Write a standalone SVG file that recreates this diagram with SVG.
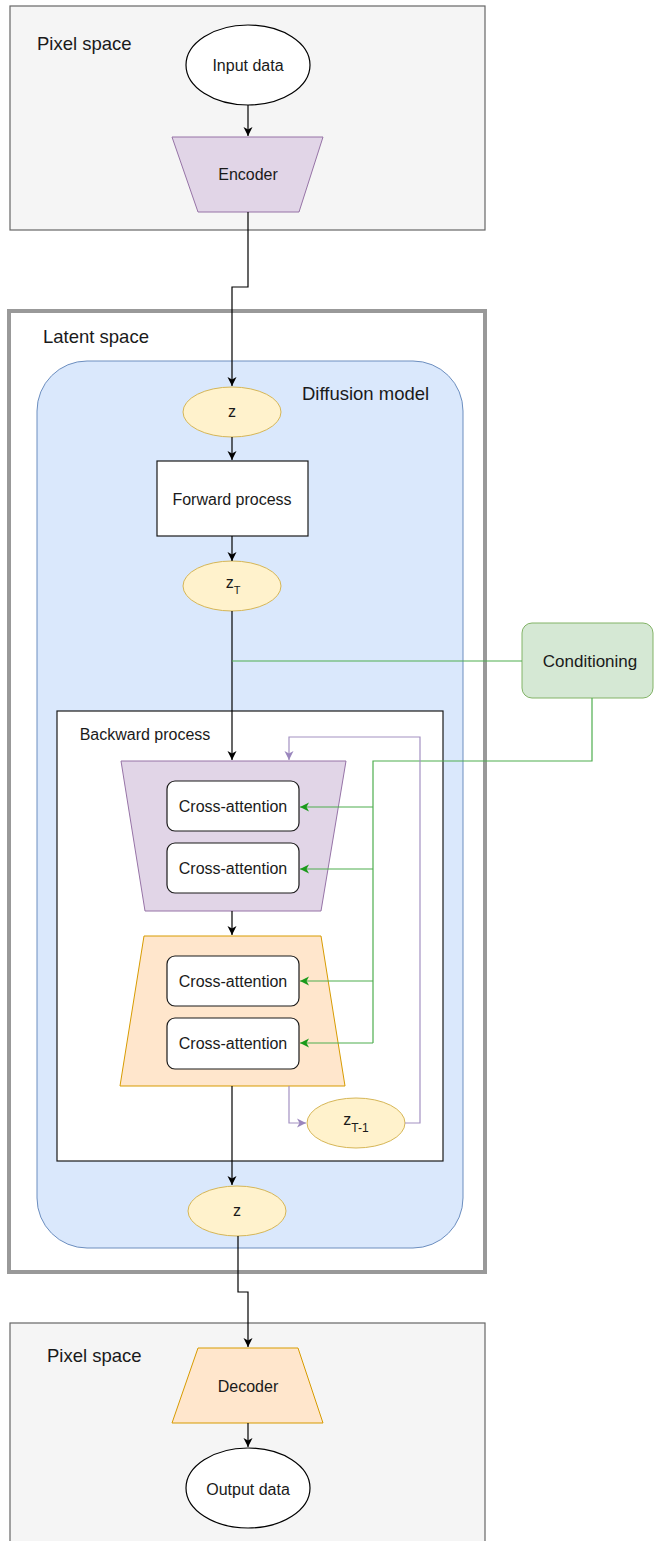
<svg xmlns="http://www.w3.org/2000/svg" width="654" height="1541" viewBox="0 0 654 1541">
  <defs>
    <style>
      text { font-family: "Liberation Sans", Arial, sans-serif; fill: #1a1a1a; }
      .lbl { font-size: 16px; text-anchor: middle; }
      .big { font-size: 18.5px; }
      .pixel { fill: #f5f5f5; stroke: #666666; stroke-width: 1.2; }
      .latent { fill: #ffffff; stroke: #999999; stroke-width: 4; }
      .diff { fill: #dae8fc; stroke: #6c8ebf; stroke-width: 1; }
      .purple { fill: #e1d5e7; stroke: #9673a6; stroke-width: 1; }
      .orange { fill: #ffe6cc; stroke: #d79b00; stroke-width: 1; }
      .latentvar { fill: #fff2cc; stroke: #d6b656; stroke-width: 1; }
      .plain { fill: #ffffff; stroke: #1a1a1a; stroke-width: 1.2; }
      .cond { fill: #d5e8d4; stroke: #82b366; stroke-width: 1; }
      .edge { fill: none; stroke: #000000; stroke-width: 1.2; }
      .edge-g { fill: none; stroke: #4fae4f; stroke-width: 1.2; }
      .edge-p { fill: none; stroke: #a391c2; stroke-width: 1.2; }
    </style>
    <marker id="arrow" markerWidth="10" markerHeight="10" refX="9" refY="5" orient="auto" markerUnits="userSpaceOnUse">
      <path d="M0,0.5 L9,5 L0,9.5 L2.5,5 Z" fill="#000000"/>
    </marker>
    <marker id="arrow-g" markerWidth="10" markerHeight="10" refX="9" refY="5" orient="auto" markerUnits="userSpaceOnUse">
      <path d="M0,0.5 L9,5 L0,9.5 L2.5,5 Z" fill="#1a9a1a"/>
    </marker>
    <marker id="arrow-p" markerWidth="10" markerHeight="10" refX="9" refY="5" orient="auto" markerUnits="userSpaceOnUse">
      <path d="M0,0.5 L9,5 L0,9.5 L2.5,5 Z" fill="#9a86bd"/>
    </marker>
  </defs>

  <rect width="654" height="1541" fill="#ffffff"/>

  <!-- containers -->
  <g id="pixel-space-top">
    <rect class="pixel" x="10" y="6" width="475" height="224"/>
    <text class="big" x="37" y="50">Pixel space</text>
  </g>
  <g id="latent-space">
    <rect class="latent" x="9" y="311" width="476" height="961"/>
    <text class="big" x="43" y="343">Latent space</text>
  </g>
  <g id="diffusion-model">
    <rect class="diff" x="37" y="361" width="426" height="887" rx="50" ry="50"/>
    <text class="big" x="302" y="400">Diffusion model</text>
  </g>
  <g id="backward-process">
    <rect class="plain" x="57" y="711" width="386" height="450"/>
    <text class="lbl" x="145" y="740">Backward process</text>
  </g>
  <g id="pixel-space-bottom">
    <rect class="pixel" x="10" y="1323" width="475" height="240"/>
    <text class="big" x="47" y="1362">Pixel space</text>
  </g>

  <!-- nodes -->
  <g id="input-data">
    <ellipse cx="248" cy="65" rx="62" ry="40" fill="#ffffff" stroke="#000000" stroke-width="1.2"/>
    <text class="lbl" x="248" y="71">Input data</text>
  </g>
  <g id="encoder">
    <polygon class="purple" points="172,137 323,137 299,212 198,212"/>
    <text class="lbl" x="248" y="180">Encoder</text>
  </g>
  <g id="z-in">
    <ellipse class="latentvar" cx="232" cy="412" rx="49" ry="25"/>
    <text class="lbl" x="232" y="417">z</text>
  </g>
  <g id="forward-process">
    <rect class="plain" x="157" y="461" width="151" height="75"/>
    <text class="lbl" x="232" y="505">Forward process</text>
  </g>
  <g id="z-T">
    <ellipse class="latentvar" cx="232" cy="586" rx="49" ry="25"/>
    <text class="lbl" x="233" y="588" font-size="15">z<tspan font-size="11" dy="6">T</tspan></text>
  </g>
  <g id="conditioning">
    <rect class="cond" x="522" y="623" width="131" height="75" rx="10" ry="10"/>
    <text x="590" y="667" font-size="17" text-anchor="middle">Conditioning</text>
  </g>
  <g id="unet-down">
    <polygon class="purple" points="121,761 346,761 321,911 145,911"/>
    <rect class="plain" x="167" y="781" width="132" height="50" rx="8" ry="8"/>
    <text class="lbl" x="233" y="812">Cross-attention</text>
    <rect class="plain" x="167" y="843" width="132" height="50" rx="8" ry="8"/>
    <text class="lbl" x="233" y="874">Cross-attention</text>
  </g>
  <g id="unet-up">
    <polygon class="orange" points="144,936 321,936 345,1086 120,1086"/>
    <rect class="plain" x="167" y="956" width="132" height="50" rx="8" ry="8"/>
    <text class="lbl" x="233" y="987">Cross-attention</text>
    <rect class="plain" x="167" y="1018" width="132" height="51" rx="8" ry="8"/>
    <text class="lbl" x="233" y="1049">Cross-attention</text>
  </g>
  <g id="z-T-1">
    <ellipse class="latentvar" cx="356" cy="1123" rx="49" ry="25"/>
    <text class="lbl" x="356" y="1125" font-size="15">z<tspan font-size="12" dy="7">T-1</tspan></text>
  </g>
  <g id="z-out">
    <ellipse class="latentvar" cx="237" cy="1211" rx="49" ry="25"/>
    <text class="lbl" x="237" y="1216">z</text>
  </g>
  <g id="decoder">
    <polygon class="orange" points="198,1348 298,1348 323,1423 172,1423"/>
    <text class="lbl" x="248" y="1392">Decoder</text>
  </g>
  <g id="output-data">
    <ellipse cx="248" cy="1488" rx="62" ry="40" fill="#ffffff" stroke="#000000" stroke-width="1.2"/>
    <text class="lbl" x="248" y="1495">Output data</text>
  </g>

  <!-- connectors, drawn above the blocks they cross -->
  <g id="connectors">
    <path class="edge" d="M248,105 V136" marker-end="url(#arrow)"/>
    <path class="edge" d="M248,212 V287 H232 V386" marker-end="url(#arrow)"/>
    <path class="edge" d="M232,437 V460" marker-end="url(#arrow)"/>
    <path class="edge" d="M232,536 V561" marker-end="url(#arrow)"/>
    <path class="edge" d="M232,611 V760" marker-end="url(#arrow)"/>
    <path class="edge" d="M232,911 V935" marker-end="url(#arrow)"/>
    <path class="edge" d="M232,1086 V1185" marker-end="url(#arrow)"/>
    <path class="edge" d="M238,1236 V1292 H248 V1347" marker-end="url(#arrow)"/>
    <path class="edge" d="M248,1423 V1447" marker-end="url(#arrow)"/>

    <path class="edge-g" d="M232,661 H522"/>
    <path class="edge-g" d="M592,698 V761 H373 V1043"/>
    <path class="edge-g" d="M373,807 H300" marker-end="url(#arrow-g)"/>
    <path class="edge-g" d="M373,869 H300" marker-end="url(#arrow-g)"/>
    <path class="edge-g" d="M373,981 H300" marker-end="url(#arrow-g)"/>
    <path class="edge-g" d="M373,1043 H300" marker-end="url(#arrow-g)"/>

    <path class="edge-p" d="M289,1086 V1123 H306" marker-end="url(#arrow-p)"/>
    <path class="edge-p" d="M405,1123 H420 V737 H289 V760" marker-end="url(#arrow-p)"/>
  </g>
</svg>
